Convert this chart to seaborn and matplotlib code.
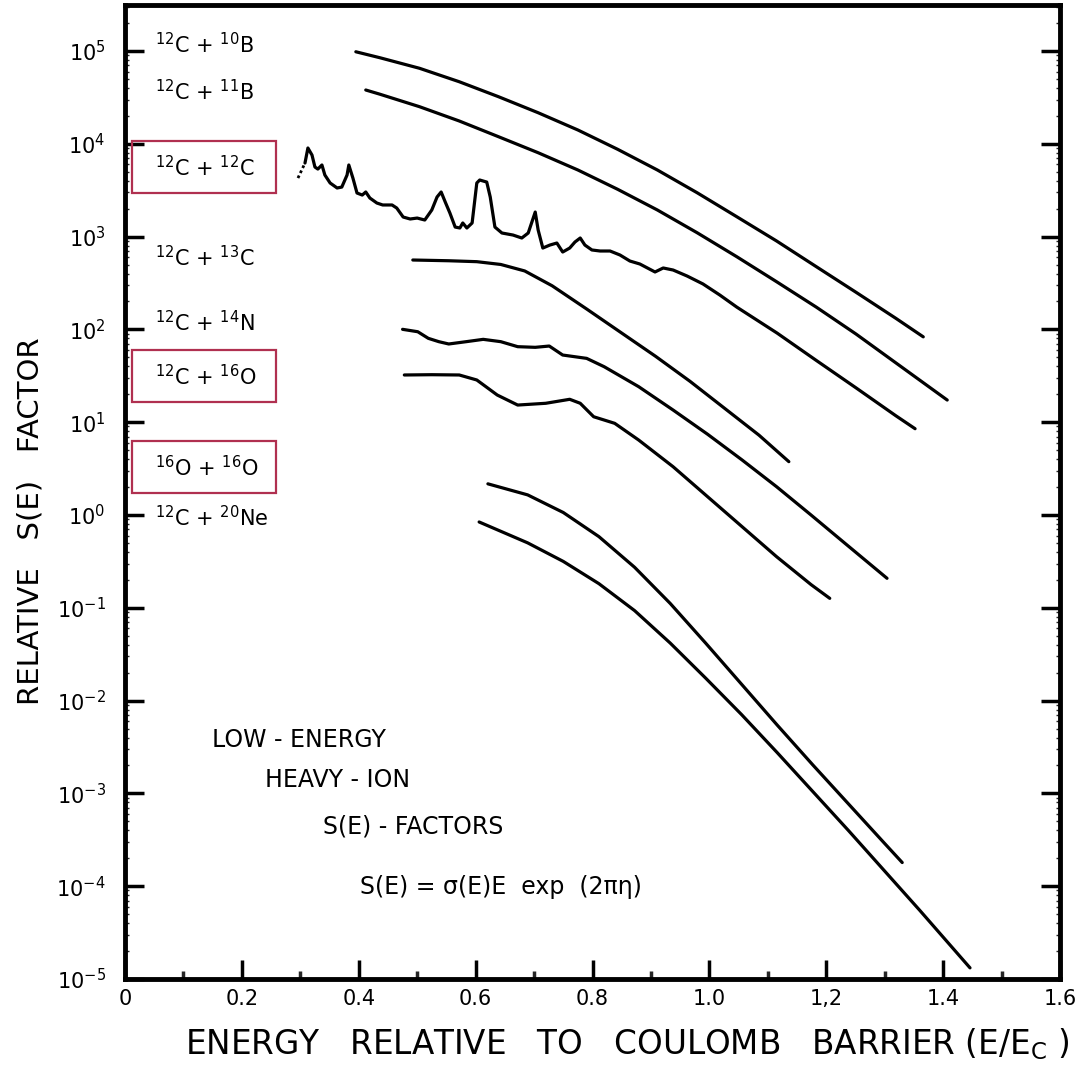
import numpy as np
import pandas as pd
import matplotlib
matplotlib.use("Agg")
import matplotlib.pyplot as plt
from matplotlib.patches import Rectangle
from matplotlib.ticker import LogLocator, NullFormatter
import seaborn as sns

# E/Ec and log10 S(E), one pair of lists per reaction
e_c10b = [0.395, 0.436, 0.504, 0.572, 0.639, 0.707, 0.775, 0.843, 0.911, 0.979, 1.047, 1.115, 1.183, 1.251, 1.319, 1.366]
logs_c10b = [4.992, 4.928, 4.814, 4.669, 4.508, 4.335, 4.149, 3.941, 3.718, 3.473, 3.214, 2.953, 2.676, 2.400, 2.120, 1.920]

e_c11b = [0.412, 0.436, 0.504, 0.572, 0.639, 0.707, 0.775, 0.843, 0.911, 0.979, 1.047, 1.115, 1.183, 1.251, 1.319, 1.407]
logs_c11b = [4.580, 4.535, 4.400, 4.246, 4.077, 3.904, 3.718, 3.510, 3.287, 3.042, 2.783, 2.514, 2.240, 1.950, 1.640, 1.239]

# 12C+12C, dotted lead-in then the resonant curve
e_c12c_dot = [0.296, 0.308]
logs_c12c_dot = [3.631, 3.793]
e_c12c = [0.308, 0.313, 0.320, 0.325, 0.330, 0.337, 0.342, 0.351, 0.363, 0.371, 0.380, 0.383,
          0.390, 0.397, 0.406, 0.412, 0.419, 0.431, 0.441, 0.457, 0.465, 0.476, 0.488, 0.500,
          0.513, 0.525, 0.534, 0.541, 0.548, 0.556, 0.565, 0.573, 0.578, 0.585, 0.594, 0.602,
          0.607, 0.619, 0.625, 0.633, 0.645, 0.664, 0.679, 0.690, 0.702, 0.707, 0.715, 0.727,
          0.739, 0.749, 0.761, 0.770, 0.779, 0.787, 0.799, 0.813, 0.830, 0.847, 0.864, 0.881,
          0.907, 0.921, 0.938, 0.962, 0.989, 1.018, 1.047, 1.116, 1.182, 1.251, 1.319, 1.352]
logs_c12c = [3.793, 3.955, 3.879, 3.750, 3.728, 3.772, 3.664, 3.578, 3.524, 3.534, 3.664, 3.772,
             3.631, 3.470, 3.448, 3.481, 3.416, 3.362, 3.341, 3.341, 3.308, 3.211, 3.190, 3.200,
             3.179, 3.287, 3.427, 3.481, 3.373, 3.254, 3.103, 3.093, 3.147, 3.093, 3.147, 3.578,
             3.610, 3.588, 3.427, 3.103, 3.039, 3.017, 2.985, 3.039, 3.265, 3.071, 2.877, 2.909,
             2.931, 2.834, 2.877, 2.942, 2.985, 2.909, 2.856, 2.845, 2.845, 2.802, 2.737, 2.705,
             2.619, 2.662, 2.640, 2.575, 2.490, 2.370, 2.240, 1.960, 1.670, 1.370, 1.070, 0.930]

e_c13c = [0.4925, 0.554, 0.602, 0.643, 0.684, 0.731, 0.790, 0.849, 0.908, 0.967, 1.026, 1.085, 1.136]
logs_c13c = [2.748, 2.740, 2.730, 2.700, 2.630, 2.470, 2.220, 1.965, 1.710, 1.440, 1.150, 0.860, 0.575]

e_c14n = [0.475, 0.501, 0.519, 0.537, 0.554, 0.584, 0.613, 0.643, 0.672, 0.702, 0.726, 0.749,
          0.790, 0.820, 0.879, 0.938, 0.997, 1.056, 1.115, 1.174, 1.233, 1.304]
logs_c14n = [2.001, 1.975, 1.904, 1.868, 1.843, 1.868, 1.893, 1.868, 1.814, 1.807, 1.821, 1.724,
             1.688, 1.598, 1.383, 1.131, 0.870, 0.593, 0.305, 0.000, -0.310, -0.682]

e_c16o = [0.478, 0.525, 0.572, 0.602, 0.637, 0.672, 0.720, 0.761, 0.779, 0.802, 0.838, 0.879,
          0.938, 0.997, 1.056, 1.115, 1.174, 1.206]
logs_c16o = [1.509, 1.512, 1.509, 1.455, 1.293, 1.185, 1.204, 1.247, 1.204, 1.059, 0.988, 0.808,
             0.520, 0.197, -0.126, -0.449, -0.750, -0.898]

e_o16o = [0.621, 0.689, 0.750, 0.811, 0.872, 0.933, 0.994, 1.055, 1.116, 1.177, 1.238, 1.299, 1.330]
logs_o16o = [0.336, 0.217, 0.027, -0.233, -0.563, -0.953, -1.383, -1.823, -2.263, -2.693, -3.113, -3.533, -3.745]

e_c20ne = [0.606, 0.689, 0.750, 0.811, 0.872, 0.933, 0.994, 1.055, 1.116, 1.177, 1.238, 1.299, 1.360, 1.446]
logs_c20ne = [-0.075, -0.300, -0.500, -0.740, -1.030, -1.380, -1.760, -2.150, -2.560, -2.980, -3.400, -3.830, -4.260, -4.880]

reactions = ["12C+10B", "12C+11B", "12C+12C", "12C+13C", "12C+14N", "12C+16O", "16O+16O", "12C+20Ne"]
reaction_labels = [r"$^{12}$C + $^{10}$B", r"$^{12}$C + $^{11}$B", r"$^{12}$C + $^{12}$C",
                   r"$^{12}$C + $^{13}$C", r"$^{12}$C + $^{14}$N", r"$^{12}$C + $^{16}$O",
                   r"$^{16}$O + $^{16}$O", r"$^{12}$C + $^{20}$Ne"]
label_logs = [5.065, 4.56, 3.74, 2.77, 2.07, 1.49, 0.51, -0.03]
boxed = ["12C+12C", "12C+16O", "16O+16O"]

x_ticks = [0, 0.2, 0.4, 0.6, 0.8, 1.0, 1.2, 1.4, 1.6]
x_tick_labels = ["0", "0.2", "0.4", "0.6", "0.8", "1.0", "1,2", "1.4", "1.6"]
y_exponents = list(range(-5, 6))

notes = ["LOW - ENERGY", "HEAVY - ION", "S(E) - FACTORS", "S(E) = σ(E)E  exp  (2πη)"]
note_e = [0.149, 0.240, 0.339, 0.402]
note_logs = [-2.42, -2.856, -3.36, -4.01]

BOX_COLOR = "#B03050"


def build_frame():
    parts = []
    curves = [e_c10b, e_c11b, e_c12c, e_c13c, e_c14n, e_c16o, e_o16o, e_c20ne]
    logs = [logs_c10b, logs_c11b, logs_c12c, logs_c13c, logs_c14n, logs_c16o, logs_o16o, logs_c20ne]
    for name, e, ls in zip(reactions, curves, logs):
        parts.append(pd.DataFrame({"reaction": name, "E": e, "S": np.power(10.0, ls)}))
    return pd.concat(parts, ignore_index=True)


sns.set_style("ticks")
plt.rcParams["font.family"] = ["DejaVu Sans"]
plt.rcParams["mathtext.default"] = "regular"
plt.rcParams["text.color"] = "black"
plt.rcParams["axes.labelcolor"] = "black"

df = build_frame()

fig = plt.figure(figsize=(10.86, 10.67), dpi=100)
ax = fig.add_axes([125 / 1086, 1 - 979 / 1067, 935 / 1086, 974 / 1067])

sns.lineplot(data=df, x="E", y="S", hue="reaction", palette={r: "black" for r in reactions},
             estimator=None, sort=False, linewidth=2.3, legend=False, ax=ax)
ax.plot(e_c12c_dot, np.power(10.0, logs_c12c_dot), color="black", lw=2.0, ls=(0, (1, 1)))

ax.set_yscale("log")
ax.set_xlim(0, 1.6)
ax.set_ylim(1e-5, 10 ** 5.496)

# ticks
ax.set_xticks(x_ticks)
ax.set_xticklabels(x_tick_labels)
ax.set_xticks([0.1, 0.3, 0.5, 0.7, 0.9, 1.1, 1.3, 1.5], minor=True)
ax.set_yticks([10.0 ** k for k in y_exponents])
ax.set_yticklabels([rf"$10^{{{k}}}$" for k in y_exponents])
ax.yaxis.set_minor_locator(LogLocator(base=10, subs=np.arange(2, 10), numticks=20))
ax.yaxis.set_minor_formatter(NullFormatter())

ax.tick_params(axis="both", which="major", direction="in", length=14, width=2.5,
               labelsize=15, color="black", labelcolor="black")
ax.tick_params(axis="x", which="major", pad=7, top=False)
ax.tick_params(axis="y", which="major", pad=14, right=True)
ax.tick_params(axis="x", which="minor", direction="in", length=6, width=2.5, top=False)
ax.tick_params(axis="y", which="minor", direction="in", length=3, width=1, right=True)

for s in ax.spines.values():
    s.set_linewidth(3.5)
    s.set_color("black")

# reaction labels on the left
for name, lab, ly in zip(reactions, reaction_labels, label_logs):
    ax.text(0.052, 10 ** ly, lab, fontsize=15, va="center", ha="left")
    if name in boxed:
        lo, hi = ly - 0.27, ly + 0.29
        ax.add_patch(Rectangle((0.012, 10 ** lo), 0.246, 10 ** hi - 10 ** lo,
                               fill=False, edgecolor=BOX_COLOR, linewidth=1.6))

for txt, xe, ly in zip(notes, note_e, note_logs):
    ax.text(xe, 10 ** ly, txt, fontsize=17, va="center", ha="left")

ax.set_ylabel("RELATIVE   S(E)   FACTOR", fontsize=21, color="black")
ax.yaxis.set_label_coords(-0.086, 0.47)
ax.set_xlabel("ENERGY   RELATIVE   TO   COULOMB   BARRIER (E/E$_C$ )", fontsize=23.5, color="black")
ax.xaxis.set_label_coords(0.537, -0.049)

fig.savefig("out.png", dpi=100)
